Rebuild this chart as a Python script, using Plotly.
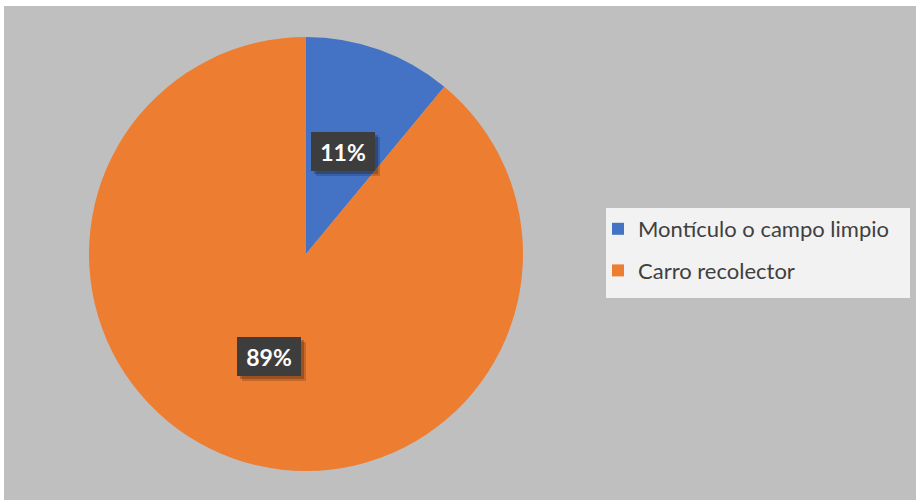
import math
import plotly.graph_objects as go

# Data
categories = ["Montículo o campo limpio", "Carro recolector"]
values = [11, 89]
colors = ["#4472C4", "#ED7D31"]

W, H = 916, 500
# pie geometry in pixels
CX, CY, R = 306, 254, 217

fig = go.Figure()

fig.add_trace(go.Pie(
    labels=categories,
    values=values,
    sort=False,
    direction="clockwise",
    rotation=0,
    textinfo="none",
    hoverinfo="label+percent",
    marker=dict(colors=colors, line=dict(width=0)),
    domain=dict(x=[(CX - R) / W, (CX + R) / W], y=[1 - (CY + R) / H, 1 - (CY - R) / H]),
    showlegend=False,
))

# legend entries
for name, col in zip(categories, colors):
    fig.add_trace(go.Scatter(
        x=[None], y=[None], mode="markers", name=name, legendgroup=name,
        marker=dict(symbol="square", size=12, color=col),
        showlegend=True,
    ))

# percentage labels placed on each slice's mid angle
total = sum(values)
annotations = []
start = 0.0
for v in values:
    frac = v / total
    mid = (start + frac / 2) * 2 * math.pi
    start += frac
    px = CX + 0.5 * R * math.sin(mid)
    py = CY - 0.5 * R * math.cos(mid)
    pct = f"{round(frac * 100)}%"
    common = dict(
        x=px / W, y=1 - py / H, xref="paper", yref="paper", showarrow=False,
        xanchor="center", yanchor="middle",
        width=64, height=39, borderpad=0, borderwidth=0,
    )
    # soft drop shadow
    annotations.append(dict(common, text=" ", bgcolor="rgba(0,0,0,0.16)", xshift=5, yshift=-5))
    annotations.append(dict(common, text=" ", bgcolor="rgba(0,0,0,0.22)", xshift=3, yshift=-3))
    annotations.append(dict(
        common, text=f"<b>{pct}</b>", bgcolor="#3d3d3d",
        font=dict(family="Lato", size=23, color="#ffffff"),
    ))

shapes = [
    # chart area
    dict(type="rect", xref="paper", yref="paper", x0=4 / W, x1=1, y0=0, y1=1 - 6 / H,
         fillcolor="#BFBFBF", line=dict(width=0), layer="below"),
    # legend box
    dict(type="rect", xref="paper", yref="paper", x0=606 / W, x1=910 / W,
         y0=1 - 298 / H, y1=1 - 208 / H,
         fillcolor="#F2F2F2", line=dict(width=0), layer="below"),
]

fig.update_layout(
    width=W, height=H,
    margin=dict(l=0, r=0, t=0, b=0),
    paper_bgcolor="#FFFFFF",
    plot_bgcolor="rgba(0,0,0,0)",
    xaxis=dict(visible=False),
    yaxis=dict(visible=False),
    shapes=shapes,
    annotations=annotations,
    legend=dict(
        x=598 / W, y=1 - 208 / H, xanchor="left", yanchor="top",
        bgcolor="rgba(0,0,0,0)", borderwidth=0,
        font=dict(family="Lato", size=22, color="#404040"),
        tracegroupgap=10, traceorder="grouped",
    ),
)

fig.write_html("out.html")
